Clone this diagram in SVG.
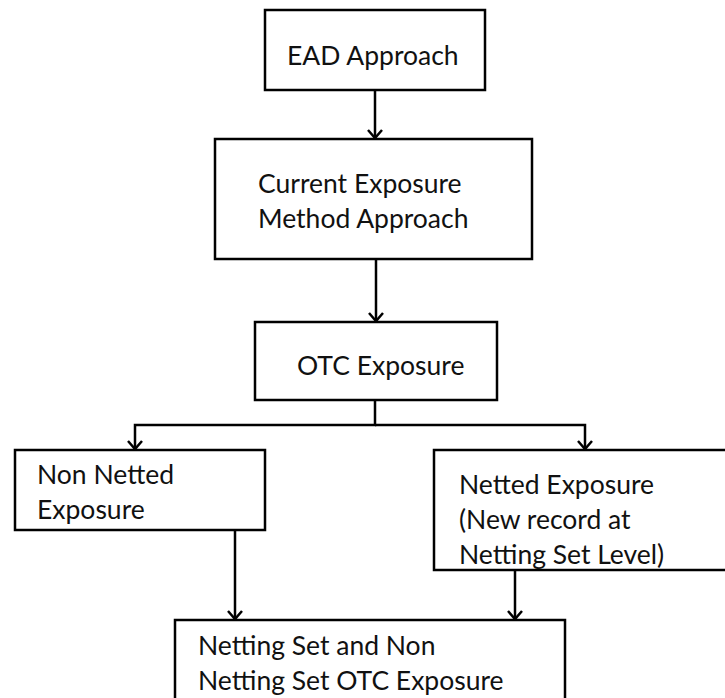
<svg xmlns="http://www.w3.org/2000/svg" width="725" height="698" viewBox="0 0 725 698">
<style>
.box{fill:#fff;stroke:#000;stroke-width:2.5}
.lbl{font-family:Lato,"Open Sans","Liberation Sans",sans-serif;font-size:26.5px;fill:#111}
.conn{fill:none;stroke:#000;stroke-width:2.5}
</style>
<defs>
<marker id="arr" viewBox="-10 -10 12 20" markerWidth="12" markerHeight="20" refX="0" refY="0" orient="auto" markerUnits="userSpaceOnUse">
<path d="M-8,-7 L0,0 L-8,7" fill="none" stroke="#000" stroke-width="2.5"/>
</marker>
</defs>
<rect width="725" height="698" fill="#fff"/>
<g id="n1"><rect class="box" x="265" y="10" width="220" height="80"/><text class="lbl" x="287" y="65">EAD Approach</text></g>
<g id="n2"><rect class="box" x="215" y="139" width="317" height="120"/><text class="lbl" x="258" y="193">Current Exposure</text><text class="lbl" x="258" y="228">Method Approach</text></g>
<g id="n3"><rect class="box" x="255" y="322" width="242" height="78"/><text class="lbl" x="297" y="375">OTC Exposure</text></g>
<g id="n4"><rect class="box" x="15" y="450" width="250" height="80"/><text class="lbl" x="37" y="484">Non Netted</text><text class="lbl" x="37" y="519">Exposure</text></g>
<g id="n5"><rect class="box" x="434" y="450" width="300" height="120"/><text class="lbl" x="459" y="494">Netted Exposure</text><text class="lbl" x="459" y="529">(New record at</text><text class="lbl" x="459" y="564">Netting Set Level)</text></g>
<g id="n6"><rect class="box" x="175" y="620" width="390" height="90"/><text class="lbl" x="198" y="655">Netting Set and Non</text><text class="lbl" x="198" y="690">Netting Set OTC Exposure</text></g>
<g id="connectors">
<path class="conn" d="M375,90 V138" marker-end="url(#arr)"/>
<path class="conn" d="M376,259 V321" marker-end="url(#arr)"/>
<path class="conn" d="M375,400 V425 H135 V449" marker-end="url(#arr)"/>
<path class="conn" d="M375,425 H585 V449" marker-end="url(#arr)"/>
<path class="conn" d="M235,530 V619" marker-end="url(#arr)"/>
<path class="conn" d="M515,570 V619" marker-end="url(#arr)"/>
</g>
</svg>
